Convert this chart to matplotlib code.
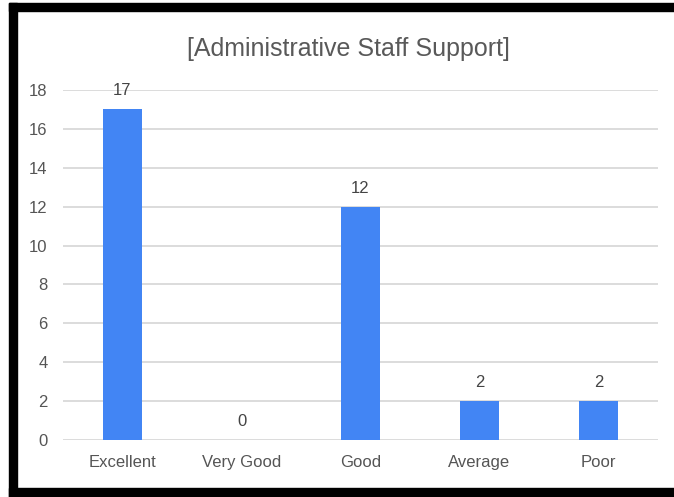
import matplotlib.pyplot as plt
from matplotlib.patches import Rectangle

# ---- data ---- #
categories = ["Excellent", "Very Good", "Good", "Average", "Poor"]
counts = [17, 0, 12, 2, 2]
yticks = [0, 2, 4, 6, 8, 10, 12, 14, 16, 18]

plt.rcParams['font.family'] = ['Liberation Sans', 'DejaVu Sans']

fig = plt.figure(figsize=(6.74, 4.97), dpi=100)
ax = fig.add_axes([63 / 674, 1 - 440 / 497, 595 / 674, 350 / 497])

# ---- bars ---- #
x = list(range(len(categories)))
bars = ax.bar(x, counts, width=0.32, color="#4285F4", zorder=3)
for xi, v in zip(x, counts):
    ax.annotate(str(v), (xi, v), xytext=(0, 8), textcoords="offset points",
                ha="center", va="bottom", fontsize=12, color="#444444")

ax.set_xlim(-0.5, len(categories) - 0.5)
ax.set_ylim(0, 18)
ax.set_yticks(yticks)
ax.set_xticks(x)
ax.set_xticklabels(categories)
ax.tick_params(axis="both", length=0, labelsize=12, labelcolor="#555555")
ax.tick_params(axis="y", pad=11)
ax.tick_params(axis="x", pad=11)
ax.grid(axis="y", color="#d9d9d9", linewidth=1.3, zorder=0)
for s in ax.spines.values():
    s.set_visible(False)

fig.text(348 / 674, 1 - 49 / 497, "[Administrative Staff Support]",
         ha="center", va="center", fontsize=18, color="#595959")

# ---- black frame ---- #
fig.patches.append(Rectangle((9 / 674, 0), 8 / 674, 494 / 497,
                             transform=fig.transFigure, color="black"))
fig.patches.append(Rectangle((9 / 674, 1 - 11 / 497), 665 / 674, 8 / 497,
                             transform=fig.transFigure, color="black"))
fig.patches.append(Rectangle((9 / 674, 0), 665 / 674, 9 / 497,
                             transform=fig.transFigure, color="black"))

plt.savefig("out.png", dpi=100)
